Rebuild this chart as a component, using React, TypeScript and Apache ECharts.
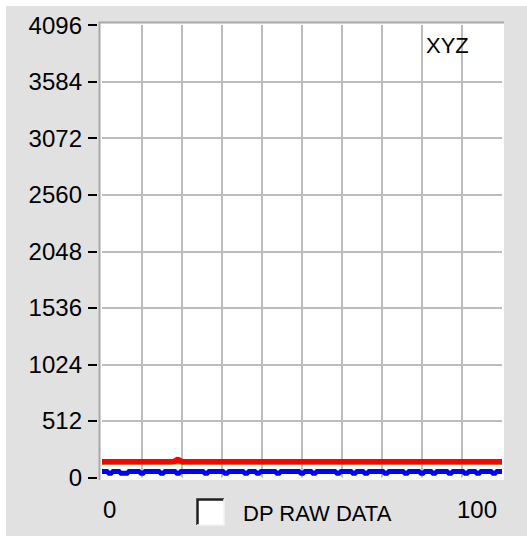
import React, { useEffect, useRef } from "react";
import * as echarts from "echarts";

const xTickLabels = [0, 100];
const yTicks = [0, 512, 1024, 1536, 2048, 2560, 3072, 3584, 4096];

const redValues = [
  143, 143, 143, 143, 143, 143, 143, 143, 143, 143,
  143, 143, 143, 143, 143, 143, 143, 143, 145, 165,
  143, 143, 143, 143, 143, 143, 143, 143, 143, 143,
  143, 143, 143, 143, 143, 143, 143, 143, 143, 143,
  143, 143, 143, 143, 143, 143, 143, 143, 143, 143,
  143, 143, 143, 143, 143, 143, 143, 143, 143, 143,
  143, 143, 143, 143, 143, 143, 143, 143, 143, 143,
  143, 143, 143, 143, 143, 143, 143, 143, 143, 143,
  143, 143, 143, 143, 143, 143, 143, 143, 143, 143,
  143, 143, 143, 143, 143, 143, 143, 143, 143, 143,
  143,
];

const greenValues = [
  140, 140, 140, 140, 140, 140, 140, 140, 140, 140,
  140, 140, 140, 140, 140, 140, 140, 140, 140, 140,
  140, 140, 140, 140, 140, 140, 140, 140, 140, 140,
  140, 140, 140, 140, 140, 140, 140, 140, 140, 140,
  140, 140, 140, 140, 140, 140, 140, 140, 140, 140,
  140, 140, 140, 140, 140, 140, 140, 140, 140, 140,
  140, 140, 140, 140, 140, 140, 140, 140, 140, 140,
  140, 140, 140, 140, 140, 140, 140, 140, 140, 140,
  140, 140, 140, 140, 140, 140, 140, 140, 140, 140,
  140, 140, 140, 140, 140, 140, 140, 140, 140, 140,
  140,
];

const blueValues = [
  54, 54, 38, 54, 54, 38, 38, 54, 54, 54,
  38, 54, 54, 54, 54, 38, 54, 54, 54, 38,
  54, 54, 54, 54, 54, 54, 38, 54, 54, 54,
  54, 38, 54, 54, 54, 54, 38, 54, 54, 38,
  54, 54, 54, 54, 38, 54, 54, 54, 54, 54,
  38, 54, 54, 38, 54, 54, 54, 54, 54, 38,
  54, 54, 54, 38, 54, 54, 38, 54, 54, 54,
  54, 38, 54, 54, 54, 54, 38, 54, 54, 54,
  38, 54, 54, 38, 54, 54, 54, 38, 54, 54,
  54, 38, 54, 54, 38, 54, 54, 54, 38, 54,
  54,
];

const FONT = "Liberation Sans, Arial, sans-serif";
const PANEL = "#e1e1e1";

export default function App() {
  const ref = useRef<HTMLDivElement>(null);

  useEffect(() => {
    if (!ref.current) return;
    const chart = echarts.init(ref.current, undefined, { renderer: "svg" });
    const toPairs = (arr: number[]) => arr.map((v, i) => [i, v]);

    chart.setOption({
      animation: false,
      backgroundColor: "#ffffff",
      grid: { left: 102, top: 25, width: 400, height: 452.5, containLabel: false },
      graphic: [
        { type: "rect", z: -20, silent: true, shape: { x: 6, y: 6, width: 521, height: 530 }, style: { fill: PANEL } },
        { type: "rect", z: -19, silent: true, shape: { x: 100, y: 23, width: 404, height: 457 }, style: { fill: "#ffffff" } },
        { type: "polyline", z: -18, silent: true, shape: { points: [[99.5, 480], [99.5, 22.5], [504, 22.5]] }, style: { stroke: "#a8a8a8", lineWidth: 2, fill: null } },
        { type: "text", z: 10, x: 426, y: 45, style: { text: "XYZ", fontFamily: FONT, fontSize: 22, fill: "#000000", verticalAlign: "middle", align: "left" } },
        { type: "rect", z: 10, shape: { x: 197, y: 499, width: 27, height: 26 }, style: { fill: "#ffffff", stroke: null } },
        { type: "polyline", z: 11, shape: { points: [[197.5, 525], [197.5, 499.5], [224, 499.5]] }, style: { stroke: "#202020", lineWidth: 2.5, fill: null } },
        { type: "polyline", z: 11, shape: { points: [[197, 525], [224, 525], [224, 499]] }, style: { stroke: "#f4f4f4", lineWidth: 1.5, fill: null } },
        { type: "text", z: 10, x: 243, y: 513, style: { text: "DP RAW DATA", fontFamily: FONT, fontSize: 22, fill: "#000000", verticalAlign: "middle", align: "left" } },
      ],
      xAxis: {
        type: "value",
        min: 0,
        max: 100,
        interval: 10,
        z: 3,
        axisLine: { show: false },
        axisTick: { show: false },
        axisLabel: {
          margin: 20,
          fontFamily: FONT,
          fontSize: 24,
          color: "#000000",
          alignMinLabel: "left",
          alignMaxLabel: "right",
          formatter: (v: number) => {
            if (v === xTickLabels[0]) return "{l|" + v + "}";
            if (v === xTickLabels[1]) return "{r|" + v + "}";
            return "";
          },
          rich: {
            l: { fontFamily: FONT, fontSize: 24, color: "#000000", padding: [0, 0, 0, 1] },
            r: { fontFamily: FONT, fontSize: 24, color: "#000000", padding: [0, 5, 0, 0] },
          },
        },
        splitLine: { show: true, showMinLine: false, showMaxLine: false, lineStyle: { color: "#bdbdbd", width: 2 } },
      },
      yAxis: {
        type: "value",
        min: yTicks[0],
        max: yTicks[yTicks.length - 1],
        interval: yTicks[1] - yTicks[0],
        offset: 5,
        z: 10,
        axisLine: { show: true, onZero: false, lineStyle: { color: PANEL, width: 1 } },
        axisTick: { show: true, inside: false, length: 9, lineStyle: { color: "#000000", width: 2, opacity: 1 } },
        axisLabel: {
          margin: 15,
          fontFamily: FONT,
          fontSize: 24,
          color: "#000000",
          formatter: (v: number) => String(v),
        },
        splitLine: { show: true, showMinLine: false, showMaxLine: false, lineStyle: { color: "#bdbdbd", width: 2 } },
      },
      series: [
        { type: "line", z: 4, data: toPairs(greenValues), showSymbol: false, lineStyle: { color: "#00c000", width: 5 } },
        { type: "line", z: 5, data: toPairs(redValues), showSymbol: false, lineStyle: { color: "#ff0000", width: 5.5 } },
        { type: "line", z: 5, step: "middle", data: toPairs(blueValues), showSymbol: false, lineStyle: { color: "#0000ff", width: 5 } },
      ],
    });
    return () => chart.dispose();
  }, []);

  return (
    <div
      ref={ref}
      style={{ position: "absolute", left: 0, top: 0, width: 527, height: 536 }}
    />
  );
}
